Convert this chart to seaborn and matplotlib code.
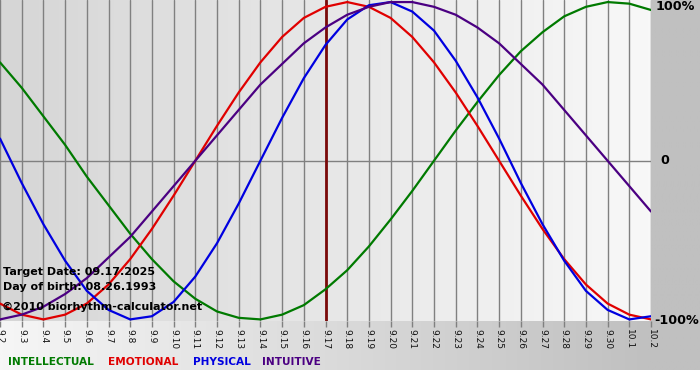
import numpy as np
import pandas as pd
import matplotlib
matplotlib.use("Agg")
import matplotlib.pyplot as plt
import seaborn as sns
from matplotlib.colors import LinearSegmentedColormap

# day labels on the x axis
days = ["9.2", "9.3", "9.4", "9.5", "9.6", "9.7", "9.8", "9.9", "9.10", "9.11",
        "9.12", "9.13", "9.14", "9.15", "9.16", "9.17", "9.18", "9.19", "9.20",
        "9.21", "9.22", "9.23", "9.24", "9.25", "9.26", "9.27", "9.28", "9.29",
        "9.30", "10.1", "10.2"]
target_day = "9.17"

# cycle values (-1 .. 1), one per day
intellectual = [0.62, 0.46, 0.28, 0.10, -0.10, -0.28, -0.46, -0.62, -0.76, -0.87,
                -0.95, -0.99, -1.00, -0.97, -0.91, -0.81, -0.69, -0.54, -0.37, -0.19,
                0.00, 0.19, 0.37, 0.54, 0.69, 0.81, 0.91, 0.97, 1.00, 0.99, 0.95]
emotional = [-0.90, -0.97, -1.00, -0.97, -0.90, -0.78, -0.62, -0.43, -0.22, 0.00,
             0.22, 0.43, 0.62, 0.78, 0.90, 0.97, 1.00, 0.97, 0.90, 0.78,
             0.62, 0.43, 0.22, 0.00, -0.22, -0.43, -0.62, -0.78, -0.90, -0.97, -1.00]
physical = [0.14, -0.14, -0.40, -0.63, -0.82, -0.94, -1.00, -0.98, -0.89, -0.73,
            -0.52, -0.27, 0.00, 0.27, 0.52, 0.73, 0.89, 0.98, 1.00, 0.94,
            0.82, 0.63, 0.40, 0.14, -0.14, -0.40, -0.63, -0.82, -0.94, -1.00, -0.98]
intuitive = [-1.00, -0.97, -0.92, -0.84, -0.74, -0.61, -0.48, -0.32, -0.16, 0.00,
             0.16, 0.32, 0.48, 0.61, 0.74, 0.84, 0.92, 0.97, 1.00, 1.00,
             0.97, 0.92, 0.84, 0.74, 0.61, 0.48, 0.32, 0.16, 0.00, -0.16, -0.32]

cycles = ["INTELLECTUAL", "EMOTIONAL", "PHYSICAL", "INTUITIVE"]
colors = {"INTELLECTUAL": "#007a00", "EMOTIONAL": "#e00000",
          "PHYSICAL": "#0000e0", "INTUITIVE": "#4b0082"}

pos = np.arange(len(days))
df = pd.concat([
    pd.DataFrame({"pos": pos, "value": vals, "cycle": name})
    for name, vals in zip(cycles, [intellectual, emotional, physical, intuitive])
])

sns.set_theme(style="white")
plt.rcParams["font.family"] = ["DejaVu Sans"]
plt.rcParams["text.color"] = "black"

W, H = 700, 380
fig = plt.figure(figsize=(7, 3.8), dpi=100)
fig.patch.set_facecolor("white")

# outer background: white -> gray gradient, white strip at the bottom
bg = fig.add_axes([0, 10 / H, 1, 1 - 10 / H])
bg.set_axis_off()
outer = LinearSegmentedColormap.from_list("outer", ["#f6f6f6", "#c0c0c0"])
xs = np.clip(np.linspace(0, W, 400) / 650, 0, 1)
bg.imshow(xs[None, :], aspect="auto", cmap=outer, extent=[0, 1, 0, 1], vmin=0, vmax=1)

# plot area
ax = fig.add_axes([0, 1 - 321 / H, 651 / W, 321 / H])
ylo, yhi = -1.01, 1.013
inner = LinearSegmentedColormap.from_list("inner", ["#d6d6d6", "#f8f8f8"])
ax.imshow(np.linspace(0, 1, 200)[None, :], aspect="auto", cmap=inner,
          extent=[0, len(days) - 1, ylo, yhi], zorder=0)

for x in pos:
    ax.axvline(x, color="#808080", lw=1, zorder=1)
ax.axhline(0, color="#808080", lw=1, zorder=1)
ax.axvline(days.index(target_day), color="#7a0a0a", lw=2, zorder=1.5)

sns.lineplot(data=df, x="pos", y="value", hue="cycle", palette=colors,
             hue_order=cycles, lw=1.6, legend=False, ax=ax, zorder=2)

ax.set_xlim(0, len(days) - 1)
ax.set_ylim(ylo, yhi)
ax.set_xticks(pos)
ax.set_xticklabels(days, rotation=270, fontsize=6.5, color="#111111")
ax.set_yticks([])
ax.set_xlabel("")
ax.set_ylabel("")
ax.tick_params(axis="x", bottom=True, length=4, width=1, color="#808080",
               direction="out", pad=2)
for s in ax.spines.values():
    s.set_visible(False)

# right-hand scale labels
fig.text(656 / W, 1 - 7 / H, "100%", fontsize=9.2, fontweight="bold", va="center")
fig.text(660 / W, 1 - 161 / H, "0", fontsize=9.2, fontweight="bold", va="center")
fig.text(654 / W, 1 - 321 / H, "-100%", fontsize=9.2, fontweight="bold", va="center")

# info texts over the plot
fig.text(3 / W, 1 - 272 / H, "Target Date: 09.17.2025", fontsize=8,
         fontweight="bold", va="center", zorder=5)
fig.text(3 / W, 1 - 287 / H, "Day of birth: 08.26.1993", fontsize=8,
         fontweight="bold", va="center", zorder=5)
fig.text(2 / W, 1 - 307 / H, "\u00a92010 biorhythm-calculator.net", fontsize=8,
         fontweight="bold", va="center", zorder=5)

# color legend along the bottom
for name, x0 in zip(cycles, [8, 108, 193, 262]):
    fig.text(x0 / W, 1 - 362 / H, name, color=colors[name], fontsize=7.6,
             fontweight="bold", va="center")

fig.savefig("out.png", dpi=100)
